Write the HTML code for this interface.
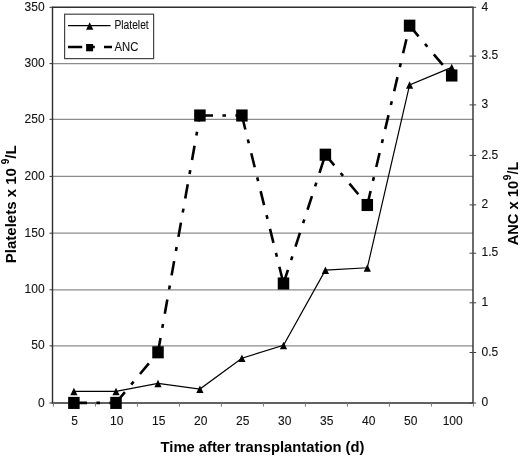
<!DOCTYPE html><html><head><meta charset="utf-8"><style>html,body{margin:0;padding:0;background:#fff;}svg{display:block;filter:grayscale(1);}</style></head><body>
<svg width="520" height="456" viewBox="0 0 520 456" font-family='"Liberation Sans", sans-serif'>
<rect width="520" height="456" fill="#fff"/>
<line x1="53" y1="345.90" x2="473" y2="345.90" stroke="#8c8c8c" stroke-width="1.2"/>
<line x1="53" y1="289.80" x2="473" y2="289.80" stroke="#8c8c8c" stroke-width="1.2"/>
<line x1="53" y1="233.20" x2="473" y2="233.20" stroke="#8c8c8c" stroke-width="1.2"/>
<line x1="53" y1="176.40" x2="473" y2="176.40" stroke="#8c8c8c" stroke-width="1.2"/>
<line x1="53" y1="119.30" x2="473" y2="119.30" stroke="#8c8c8c" stroke-width="1.2"/>
<line x1="53" y1="63.60" x2="473" y2="63.60" stroke="#8c8c8c" stroke-width="1.2"/>
<path d="M52.5,7.3 H473.0 V403.0 H52.5 Z" fill="none" stroke="#2e2e2e" stroke-width="1.4"/>
<line x1="49.5" y1="403.00" x2="53" y2="403.00" stroke="#333" stroke-width="1"/>
<text x="44.6" y="407.10" font-size="12" text-anchor="end" fill="#111" stroke="#111" stroke-width="0.1">0</text>
<line x1="49.5" y1="345.90" x2="53" y2="345.90" stroke="#333" stroke-width="1"/>
<text x="44.6" y="349.20" font-size="12" text-anchor="end" fill="#111" stroke="#111" stroke-width="0.1">50</text>
<line x1="49.5" y1="289.80" x2="53" y2="289.80" stroke="#333" stroke-width="1"/>
<text x="44.6" y="293.10" font-size="12" text-anchor="end" fill="#111" stroke="#111" stroke-width="0.1">100</text>
<line x1="49.5" y1="233.20" x2="53" y2="233.20" stroke="#333" stroke-width="1"/>
<text x="44.6" y="236.50" font-size="12" text-anchor="end" fill="#111" stroke="#111" stroke-width="0.1">150</text>
<line x1="49.5" y1="176.40" x2="53" y2="176.40" stroke="#333" stroke-width="1"/>
<text x="44.6" y="179.70" font-size="12" text-anchor="end" fill="#111" stroke="#111" stroke-width="0.1">200</text>
<line x1="49.5" y1="119.30" x2="53" y2="119.30" stroke="#333" stroke-width="1"/>
<text x="44.6" y="122.60" font-size="12" text-anchor="end" fill="#111" stroke="#111" stroke-width="0.1">250</text>
<line x1="49.5" y1="63.60" x2="53" y2="63.60" stroke="#333" stroke-width="1"/>
<text x="44.6" y="66.90" font-size="12" text-anchor="end" fill="#111" stroke="#111" stroke-width="0.1">300</text>
<line x1="49.5" y1="7.30" x2="53" y2="7.30" stroke="#333" stroke-width="1"/>
<text x="44.6" y="10.60" font-size="12" text-anchor="end" fill="#111" stroke="#111" stroke-width="0.1">350</text>
<line x1="469.5" y1="403.00" x2="476.2" y2="403.00" stroke="#444" stroke-width="1"/>
<text x="481.6" y="406.20" font-size="12" text-anchor="start" fill="#111" stroke="#111" stroke-width="0.1">0</text>
<line x1="469.5" y1="352.50" x2="476.2" y2="352.50" stroke="#444" stroke-width="1"/>
<text x="481.6" y="355.70" font-size="12" text-anchor="start" fill="#111" stroke="#111" stroke-width="0.1">0.5</text>
<line x1="469.5" y1="302.80" x2="476.2" y2="302.80" stroke="#444" stroke-width="1"/>
<text x="481.6" y="306.00" font-size="12" text-anchor="start" fill="#111" stroke="#111" stroke-width="0.1">1</text>
<line x1="469.5" y1="253.20" x2="476.2" y2="253.20" stroke="#444" stroke-width="1"/>
<text x="481.6" y="256.40" font-size="12" text-anchor="start" fill="#111" stroke="#111" stroke-width="0.1">1.5</text>
<line x1="469.5" y1="204.90" x2="476.2" y2="204.90" stroke="#444" stroke-width="1"/>
<text x="481.6" y="208.10" font-size="12" text-anchor="start" fill="#111" stroke="#111" stroke-width="0.1">2</text>
<line x1="469.5" y1="155.40" x2="476.2" y2="155.40" stroke="#444" stroke-width="1"/>
<text x="481.6" y="158.60" font-size="12" text-anchor="start" fill="#111" stroke="#111" stroke-width="0.1">2.5</text>
<line x1="469.5" y1="104.90" x2="476.2" y2="104.90" stroke="#444" stroke-width="1"/>
<text x="481.6" y="108.10" font-size="12" text-anchor="start" fill="#111" stroke="#111" stroke-width="0.1">3</text>
<line x1="469.5" y1="56.10" x2="476.2" y2="56.10" stroke="#444" stroke-width="1"/>
<text x="481.6" y="59.30" font-size="12" text-anchor="start" fill="#111" stroke="#111" stroke-width="0.1">3.5</text>
<line x1="469.5" y1="7.30" x2="476.2" y2="7.30" stroke="#444" stroke-width="1"/>
<text x="481.6" y="10.50" font-size="12" text-anchor="start" fill="#111" stroke="#111" stroke-width="0.1">4</text>
<line x1="53.40" y1="403" x2="53.40" y2="406.6" stroke="#777" stroke-width="1"/>
<line x1="95.40" y1="403" x2="95.40" y2="406.6" stroke="#777" stroke-width="1"/>
<line x1="137.40" y1="403" x2="137.40" y2="406.6" stroke="#777" stroke-width="1"/>
<line x1="179.40" y1="403" x2="179.40" y2="406.6" stroke="#777" stroke-width="1"/>
<line x1="221.40" y1="403" x2="221.40" y2="406.6" stroke="#777" stroke-width="1"/>
<line x1="263.40" y1="403" x2="263.40" y2="406.6" stroke="#777" stroke-width="1"/>
<line x1="305.40" y1="403" x2="305.40" y2="406.6" stroke="#777" stroke-width="1"/>
<line x1="347.40" y1="403" x2="347.40" y2="406.6" stroke="#777" stroke-width="1"/>
<line x1="389.40" y1="403" x2="389.40" y2="406.6" stroke="#777" stroke-width="1"/>
<line x1="431.40" y1="403" x2="431.40" y2="406.6" stroke="#777" stroke-width="1"/>
<line x1="473.40" y1="403" x2="473.40" y2="406.6" stroke="#777" stroke-width="1"/>
<text x="74.70" y="425" font-size="12" text-anchor="middle" fill="#111" stroke="#111" stroke-width="0.1">5</text>
<text x="116.70" y="425" font-size="12" text-anchor="middle" fill="#111" stroke="#111" stroke-width="0.1">10</text>
<text x="158.70" y="425" font-size="12" text-anchor="middle" fill="#111" stroke="#111" stroke-width="0.1">15</text>
<text x="200.70" y="425" font-size="12" text-anchor="middle" fill="#111" stroke="#111" stroke-width="0.1">20</text>
<text x="242.70" y="425" font-size="12" text-anchor="middle" fill="#111" stroke="#111" stroke-width="0.1">25</text>
<text x="284.70" y="425" font-size="12" text-anchor="middle" fill="#111" stroke="#111" stroke-width="0.1">30</text>
<text x="326.70" y="425" font-size="12" text-anchor="middle" fill="#111" stroke="#111" stroke-width="0.1">35</text>
<text x="368.70" y="425" font-size="12" text-anchor="middle" fill="#111" stroke="#111" stroke-width="0.1">40</text>
<text x="410.70" y="425" font-size="12" text-anchor="middle" fill="#111" stroke="#111" stroke-width="0.1">50</text>
<text x="452.70" y="425" font-size="12" text-anchor="middle" fill="#111" stroke="#111" stroke-width="0.1">100</text>
<polyline points="73.90,391.30 116.00,391.30 158.00,383.30 199.90,389.10 241.90,358.20 283.50,345.30 325.40,270.20 367.30,267.80 409.60,84.90 451.70,67.40" fill="none" stroke="#000" stroke-width="1.2"/>
<line x1="73.90" y1="402.90" x2="116.00" y2="402.90" stroke="#000" stroke-width="2.6" stroke-dasharray="13.13 9.41 3.55 9.41"/>
<line x1="116.00" y1="402.90" x2="158.00" y2="352.30" stroke="#000" stroke-width="2.6" stroke-dasharray="13.90 9.95 3.76 9.95"/>
<line x1="158.00" y1="352.30" x2="199.90" y2="115.50" stroke="#000" stroke-width="2.6" stroke-dasharray="14.46 10.35 3.91 10.35"/>
<line x1="199.90" y1="115.50" x2="241.90" y2="115.50" stroke="#000" stroke-width="2.6" stroke-dasharray="13.13 9.41 3.55 9.41"/>
<line x1="241.90" y1="115.50" x2="283.50" y2="283.50" stroke="#000" stroke-width="2.6" stroke-dasharray="14.41 10.32 3.90 10.32"/>
<line x1="283.50" y1="283.50" x2="325.40" y2="154.70" stroke="#000" stroke-width="2.6" stroke-dasharray="14.35 10.28 3.88 10.28"/>
<line x1="325.40" y1="154.70" x2="367.30" y2="205.00" stroke="#000" stroke-width="2.6" stroke-dasharray="13.89 9.95 3.75 9.95"/>
<line x1="367.30" y1="205.00" x2="409.60" y2="25.70" stroke="#000" stroke-width="2.6" stroke-dasharray="14.42 10.33 3.90 10.33"/>
<line x1="409.60" y1="25.70" x2="451.70" y2="75.50" stroke="#000" stroke-width="2.6" stroke-dasharray="13.88 9.94 3.75 9.94"/>
<path d="M73.90,387.70 L77.50,395.20 L70.30,395.20 Z" fill="#000"/>
<path d="M116.00,387.70 L119.60,395.20 L112.40,395.20 Z" fill="#000"/>
<path d="M158.00,379.70 L161.60,387.20 L154.40,387.20 Z" fill="#000"/>
<path d="M199.90,385.50 L203.50,393.00 L196.30,393.00 Z" fill="#000"/>
<path d="M241.90,354.60 L245.50,362.10 L238.30,362.10 Z" fill="#000"/>
<path d="M283.50,341.70 L287.10,349.20 L279.90,349.20 Z" fill="#000"/>
<path d="M325.40,266.60 L329.00,274.10 L321.80,274.10 Z" fill="#000"/>
<path d="M367.30,264.20 L370.90,271.70 L363.70,271.70 Z" fill="#000"/>
<path d="M409.60,81.30 L413.20,88.80 L406.00,88.80 Z" fill="#000"/>
<path d="M451.70,63.80 L455.30,71.30 L448.10,71.30 Z" fill="#000"/>
<rect x="68.15" y="396.85" width="11.5" height="12.1" fill="#000"/>
<rect x="110.25" y="396.85" width="11.5" height="12.1" fill="#000"/>
<rect x="152.25" y="346.25" width="11.5" height="12.1" fill="#000"/>
<rect x="194.15" y="109.45" width="11.5" height="12.1" fill="#000"/>
<rect x="236.15" y="109.45" width="11.5" height="12.1" fill="#000"/>
<rect x="277.75" y="277.45" width="11.5" height="12.1" fill="#000"/>
<rect x="319.65" y="148.65" width="11.5" height="12.1" fill="#000"/>
<rect x="361.55" y="198.95" width="11.5" height="12.1" fill="#000"/>
<rect x="403.85" y="19.65" width="11.5" height="12.1" fill="#000"/>
<rect x="445.95" y="69.45" width="11.5" height="12.1" fill="#000"/>
<rect x="64.6" y="14.2" width="89" height="44.4" fill="#fff" stroke="#444" stroke-width="1.2"/>
<line x1="68" y1="25.6" x2="110.5" y2="25.6" stroke="#000" stroke-width="1.2"/>
<path d="M89.70,22.20 L93.30,29.70 L86.10,29.70 Z" fill="#000"/>
<text x="114.5" y="29.2" font-size="12" fill="#111" stroke="#111" stroke-width="0.1" textLength="34.2" lengthAdjust="spacingAndGlyphs">Platelet</text>
<line x1="68" y1="46.9" x2="112" y2="46.9" stroke="#000" stroke-width="2.5" stroke-dasharray="14.2 8 4.6 9.2 14 10"/>
<rect x="86.1" y="44" width="7" height="7.3" fill="#000"/>
<text x="114.5" y="50.6" font-size="12" fill="#111" stroke="#111" stroke-width="0.1" textLength="23.8" lengthAdjust="spacingAndGlyphs">ANC</text>
<text transform="translate(15.8,263.27) rotate(-90) scale(1.0747126436781609,1)" font-size="14" font-weight="bold" fill="#000">Platelets x 10</text>
<text transform="translate(8.9,164.30) rotate(-90) scale(1.0,1)" font-size="10" font-weight="bold" fill="#000">9</text>
<text transform="translate(15.8,158.70) rotate(-90) scale(1.0666666666666667,1)" font-size="14" font-weight="bold" fill="#000">/L</text>
<text transform="translate(517.8,245.30) rotate(-90) scale(1.0475409836065575,1)" font-size="14" font-weight="bold" fill="#000">ANC x 10</text>
<text transform="translate(510.9,180.20) rotate(-90) scale(1.0,1)" font-size="10" font-weight="bold" fill="#000">9</text>
<text transform="translate(517.8,174.60) rotate(-90) scale(1.0250000000000001,1)" font-size="14" font-weight="bold" fill="#000">/L</text>
<text transform="translate(160.6,451.6) scale(1.0539,1)" font-size="14" font-weight="bold" fill="#000">Time after transplantation (d)</text>
</svg></body></html>
